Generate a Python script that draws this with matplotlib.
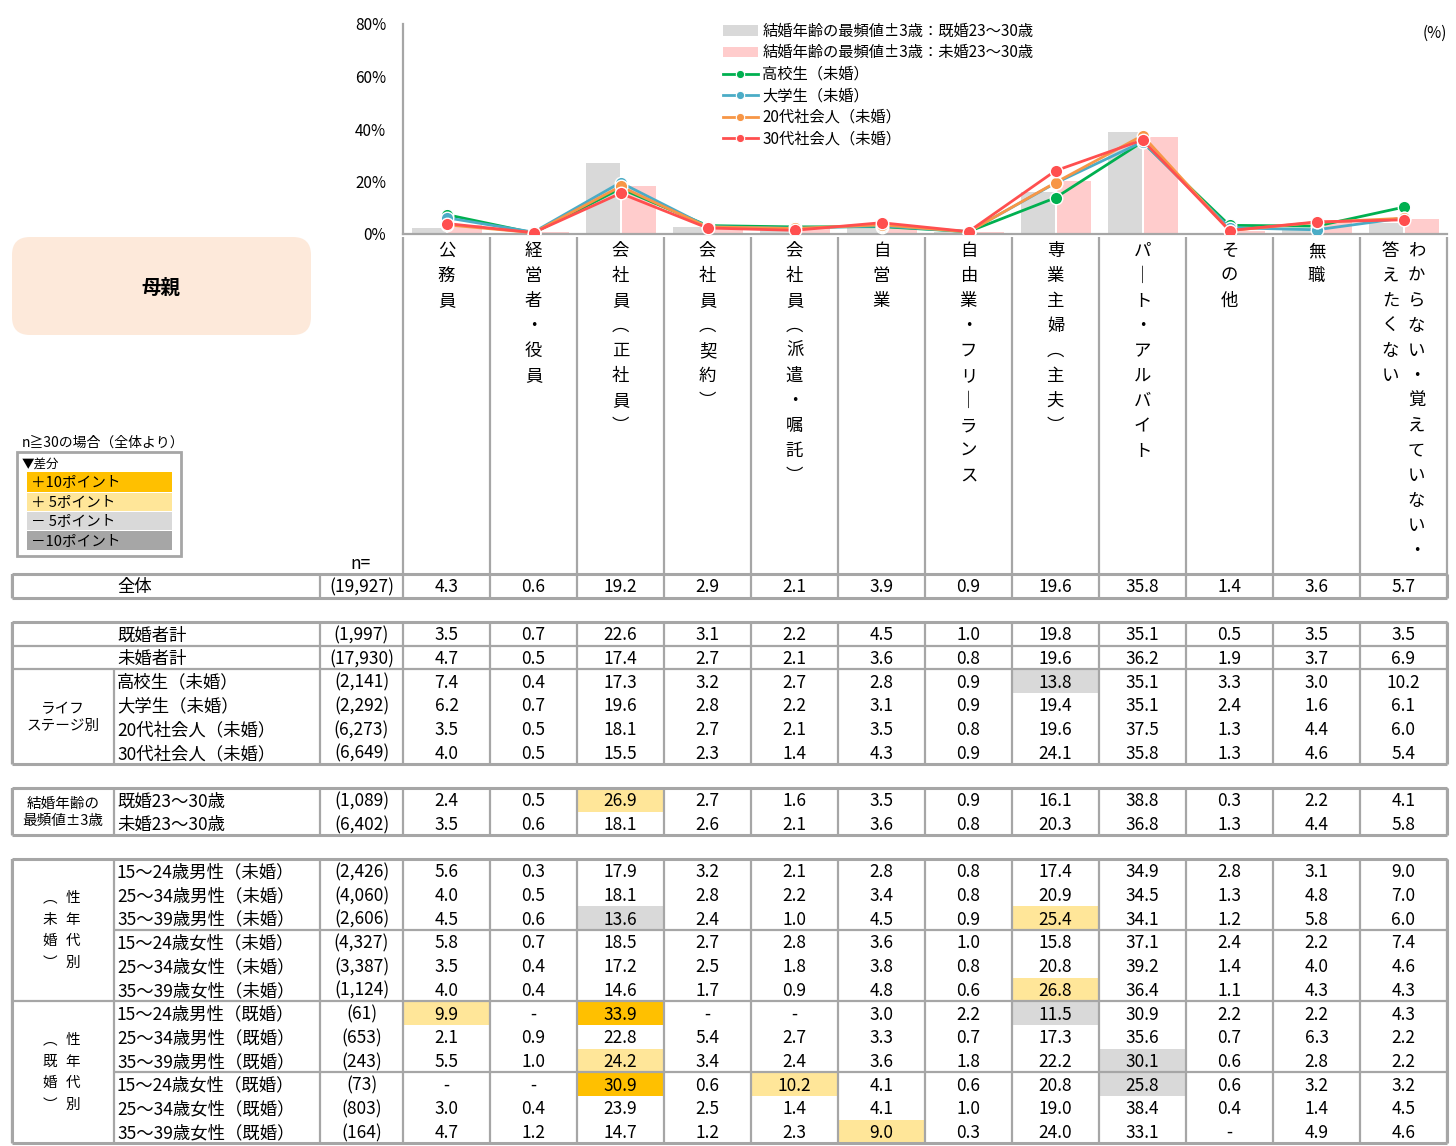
import numpy as np
import matplotlib.pyplot as plt
from matplotlib.patches import Rectangle, FancyBboxPatch, Patch
from matplotlib.lines import Line2D

plt.rcParams['font.family'] = ['Noto Sans CJK JP', 'DejaVu Sans']

# ---- data ----
categories = ["公務員", "経営者・役員", "会社員（正社員）", "会社員（契約）", "会社員（派遣・嘱託）",
              "自営業", "自由業・フリーランス", "専業主婦（主夫）", "パート・アルバイト", "その他",
              "無職", "わからない・覚えていない・答えたくない"]

# column headers as vertical text (right column first for the last category)
header_cols = [["公務員"], ["経営者・役員"], ["会社員︵正社員︶"], ["会社員︵契約︶"],
               ["会社員︵派遣・嘱託︶"], ["自営業"], ["自由業・フリ｜ランス"], ["専業主婦︵主夫︶"],
               ["パ｜ト・アルバイト"], ["その他"], ["無職"],
               ["わからない・覚えていない・", "答えたくない"]]

row_labels = ["全体",
              "既婚者計", "未婚者計", "高校生（未婚）", "大学生（未婚）", "20代社会人（未婚）", "30代社会人（未婚）",
              "既婚23〜30歳", "未婚23〜30歳",
              "15〜24歳男性（未婚）", "25〜34歳男性（未婚）", "35〜39歳男性（未婚）",
              "15〜24歳女性（未婚）", "25〜34歳女性（未婚）", "35〜39歳女性（未婚）",
              "15〜24歳男性（既婚）", "25〜34歳男性（既婚）", "35〜39歳男性（既婚）",
              "15〜24歳女性（既婚）", "25〜34歳女性（既婚）", "35〜39歳女性（既婚）"]

row_n = ["(19,927)",
         "(1,997)", "(17,930)", "(2,141)", "(2,292)", "(6,273)", "(6,649)",
         "(1,089)", "(6,402)",
         "(2,426)", "(4,060)", "(2,606)", "(4,327)", "(3,387)", "(1,124)",
         "(61)", "(653)", "(243)", "(73)", "(803)", "(164)"]

nan = np.nan
values = [
    [4.3, 0.6, 19.2, 2.9, 2.1, 3.9, 0.9, 19.6, 35.8, 1.4, 3.6, 5.7],
    [3.5, 0.7, 22.6, 3.1, 2.2, 4.5, 1.0, 19.8, 35.1, 0.5, 3.5, 3.5],
    [4.7, 0.5, 17.4, 2.7, 2.1, 3.6, 0.8, 19.6, 36.2, 1.9, 3.7, 6.9],
    [7.4, 0.4, 17.3, 3.2, 2.7, 2.8, 0.9, 13.8, 35.1, 3.3, 3.0, 10.2],
    [6.2, 0.7, 19.6, 2.8, 2.2, 3.1, 0.9, 19.4, 35.1, 2.4, 1.6, 6.1],
    [3.5, 0.5, 18.1, 2.7, 2.1, 3.5, 0.8, 19.6, 37.5, 1.3, 4.4, 6.0],
    [4.0, 0.5, 15.5, 2.3, 1.4, 4.3, 0.9, 24.1, 35.8, 1.3, 4.6, 5.4],
    [2.4, 0.5, 26.9, 2.7, 1.6, 3.5, 0.9, 16.1, 38.8, 0.3, 2.2, 4.1],
    [3.5, 0.6, 18.1, 2.6, 2.1, 3.6, 0.8, 20.3, 36.8, 1.3, 4.4, 5.8],
    [5.6, 0.3, 17.9, 3.2, 2.1, 2.8, 0.8, 17.4, 34.9, 2.8, 3.1, 9.0],
    [4.0, 0.5, 18.1, 2.8, 2.2, 3.4, 0.8, 20.9, 34.5, 1.3, 4.8, 7.0],
    [4.5, 0.6, 13.6, 2.4, 1.0, 4.5, 0.9, 25.4, 34.1, 1.2, 5.8, 6.0],
    [5.8, 0.7, 18.5, 2.7, 2.8, 3.6, 1.0, 15.8, 37.1, 2.4, 2.2, 7.4],
    [3.5, 0.4, 17.2, 2.5, 1.8, 3.8, 0.8, 20.8, 39.2, 1.4, 4.0, 4.6],
    [4.0, 0.4, 14.6, 1.7, 0.9, 4.8, 0.6, 26.8, 36.4, 1.1, 4.3, 4.3],
    [9.9, nan, 33.9, nan, nan, 3.0, 2.2, 11.5, 30.9, 2.2, 2.2, 4.3],
    [2.1, 0.9, 22.8, 5.4, 2.7, 3.3, 0.7, 17.3, 35.6, 0.7, 6.3, 2.2],
    [5.5, 1.0, 24.2, 3.4, 2.4, 3.6, 1.8, 22.2, 30.1, 0.6, 2.8, 2.2],
    [nan, nan, 30.9, 0.6, 10.2, 4.1, 0.6, 20.8, 25.8, 0.6, 3.2, 3.2],
    [3.0, 0.4, 23.9, 2.5, 1.4, 4.1, 1.0, 19.0, 38.4, 0.4, 1.4, 4.5],
    [4.7, 1.2, 14.7, 1.2, 2.3, 9.0, 0.3, 24.0, 33.1, nan, 4.9, 4.6],
]

# highlighted cells: (row, col, level)  level: 2=+10, 1=+5, -1=-5, -2=-10
highlights = [(3, 7, -1), (7, 2, 1), (11, 2, -1), (11, 7, 1), (14, 7, 1),
              (15, 0, 1), (15, 2, 2), (15, 7, -1), (17, 2, 1), (17, 8, -1),
              (18, 2, 2), (18, 4, 1), (18, 8, -1), (20, 5, 1)]
hl_colors = {2: "#FFC000", 1: "#FFE699", -1: "#D9D9D9", -2: "#A6A6A6"}

line_rows = [3, 4, 5, 6]
line_names = ["高校生（未婚）", "大学生（未婚）", "20代社会人（未婚）", "30代社会人（未婚）"]
line_colors = ["#00B050", "#4BACC6", "#F79646", "#FF4F4F"]
bar_rows = [7, 8]
bar_names = ["結婚年齢の最頻値±3歳：既婚23～30歳", "結婚年齢の最頻値±3歳：未婚23～30歳"]
bar_colors = ["#D9D9D9", "#FFCCCC"]

# ---- layout (pixels) ----
W, H = 1456, 1146
GRID = "#A6A6A6"
x_left, x_grp, x_lab, x_n = 12, 114, 320, 403
col_w = 87.0
n_cols = len(categories)
x_right = x_n + col_w * n_cols
pitch = 23.7
blocks = [(574, [0]), (622, [1, 2, 3, 4, 5, 6]), (788, [7, 8]),
          (859, list(range(9, 21)))]
fs = 12.5
dy = 1.5  # text baseline nudge

fig = plt.figure(figsize=(W / 100, H / 100), dpi=100)
ax = fig.add_axes([0, 0, 1, 1])
ax.set_xlim(0, W)
ax.set_ylim(H, 0)
ax.axis("off")

col_x = [x_n + col_w * (i + 0.5) for i in range(n_cols)]

# table cells
row_y = {}
for top, rows in blocks:
    for k, r in enumerate(rows):
        row_y[r] = top + pitch * (k + 0.5)

for r, c, lev in highlights:
    ax.add_patch(Rectangle((x_n + col_w * c, row_y[r] - pitch / 2), col_w, pitch,
                           facecolor=hl_colors[lev], edgecolor="none", zorder=1))

for r in range(len(row_labels)):
    y = row_y[r] + dy
    ax.text(x_grp + 3, y, row_labels[r], ha="left", va="center", fontsize=fs, zorder=3)
    ax.text((x_lab + x_n) / 2, y, row_n[r], ha="center", va="center", fontsize=fs, zorder=3)
    for c, v in enumerate(values[r]):
        s = "-" if np.isnan(v) else f"{v:.1f}"
        ax.text(col_x[c], y, s, ha="center", va="center", fontsize=fs, zorder=3)

col_edges = [x_n + col_w * i for i in range(n_cols + 1)]
lw = 1.6
for top, rows in blocks:
    bot = top + pitch * len(rows)
    ax.hlines([top, bot], x_left, x_right, color=GRID, lw=2.2, zorder=4)
    ax.vlines([x_left, x_lab] + col_edges, top, bot, color=GRID, lw=lw, zorder=4)
    ax.vlines([x_left, x_right], top, bot, color=GRID, lw=2.2, zorder=4)

# block 2 details
ax.hlines([622 + pitch, 622 + 2 * pitch], x_left, x_right, color=GRID, lw=lw, zorder=4)
ax.vlines(x_grp, 622 + 2 * pitch, 622 + 6 * pitch, color=GRID, lw=lw, zorder=4)
# block 3
ax.vlines(x_grp, 788, 788 + 2 * pitch, color=GRID, lw=lw, zorder=4)
# block 4
ax.vlines(x_grp, 859, 859 + 12 * pitch, color=GRID, lw=lw, zorder=4)
ax.hlines([859 + 3 * pitch, 859 + 9 * pitch], x_grp, x_right, color=GRID, lw=lw, zorder=4)
ax.hlines(859 + 6 * pitch, x_left, x_right, color=GRID, lw=lw, zorder=4)

# group labels
ax.text((x_left + x_grp) / 2, 622 + 4 * pitch + 1, "ライフ\nステージ別", ha="center", va="center",
        fontsize=10.5, linespacing=1.25)
ax.text((x_left + x_grp) / 2, 788 + pitch + 1, "結婚年齢の\n最頻値±3歳", ha="center", va="center",
        fontsize=10.5, linespacing=1.25)
for top, mid in [(859, "未婚"), (859 + 6 * pitch, "既婚")]:
    cy = top + 3 * pitch
    for k, ch in enumerate("性年代別"):
        ax.text(73, cy - 32 + 21.5 * k, ch, ha="center", va="center", fontsize=10.5)
    for k, ch in enumerate("︵" + mid + "︶"):
        ax.text(50, cy - 32 + 21.5 * k, ch, ha="center", va="center", fontsize=10.5)

# header area
ax.vlines(col_edges, 237, 574, color=GRID, lw=lw, zorder=4)
for i, cols in enumerate(header_cols):
    offs = [0] if len(cols) == 1 else [13, -13]
    for txt, off in zip(cols, offs):
        for k, ch in enumerate(txt):
            ax.text(col_x[i] + off, 251 + 25 * k, ch, ha="center", va="center", fontsize=fs)
ax.text(361, 564, "n=", ha="center", va="center", fontsize=fs)

# title box
ax.add_patch(FancyBboxPatch((12, 237), 299, 98, boxstyle="round,pad=0,rounding_size=18",
                            facecolor="#FDE9DA", edgecolor="none"))
ax.text(161, 288, "母親", ha="center", va="center", fontsize=14, fontweight="bold")

# difference legend box
ax.text(22, 443, "n≧30の場合（全体より）", ha="left", va="center", fontsize=10)
ax.add_patch(Rectangle((17, 452), 164, 104, facecolor="white", edgecolor=GRID, lw=2))
ax.text(22, 464, "▼差分", ha="left", va="center", fontsize=9)
legend_rows = [("＋10ポイント", 2, 472, 20), ("＋ 5ポイント", 1, 493, 18),
               ("－ 5ポイント", -1, 512, 18), ("－10ポイント", -2, 531, 19)]
for lab, lev, y0, h in legend_rows:
    ax.add_patch(Rectangle((27, y0), 145, h, facecolor=hl_colors[lev], edgecolor="none"))
    ax.text(31, y0 + h / 2 + 1, lab, ha="left", va="center", fontsize=10.5)

# ---- chart ----
y0_px, y80_px = 234, 24
cax = fig.add_axes([x_n / W, (H - y0_px) / H, (x_right - x_n) / W, (y0_px - y80_px) / H])
cax.patch.set_alpha(0)
x = np.arange(n_cols)
for j, (r, col) in enumerate(zip(bar_rows, bar_colors)):
    cax.bar(x - 0.2 + 0.41 * j, values[r], width=0.39, color=col, zorder=1)
for r, col in zip(line_rows, line_colors):
    cax.plot(x, values[r], color=col, lw=2, marker="o", ms=9, mec="white", mew=1, zorder=3)
cax.set_xlim(-0.5, n_cols - 0.5)
cax.set_ylim(0, 80)
cax.set_xticks([])
cax.set_yticks([0, 20, 40, 60, 80])
cax.set_yticklabels(["0%", "20%", "40%", "60%", "80%"], fontsize=11)
cax.tick_params(axis="y", length=0, pad=12)
for s in ["top", "right"]:
    cax.spines[s].set_visible(False)
for s in ["left", "bottom"]:
    cax.spines[s].set_color(GRID)
    cax.spines[s].set_linewidth(1.6)
cax.text(1.0, 1 - 9 / 210, "(%)", transform=cax.transAxes, ha="right", va="center", fontsize=11)

handles = [Patch(facecolor=c, edgecolor="none") for c in bar_colors]
handles += [Line2D([], [], color=c, lw=2, marker="o", ms=6, mec="white", mew=0.8) for c in line_colors]
cax.legend(handles, bar_names + line_names, loc="upper left",
           bbox_to_anchor=(712 / W, 1 - 12 / H), bbox_transform=fig.transFigure,
           frameon=False, fontsize=11, handlelength=2.3, handletextpad=0.3,
           labelspacing=0.3, borderpad=0.2)

fig.savefig("out.png", dpi=100)
